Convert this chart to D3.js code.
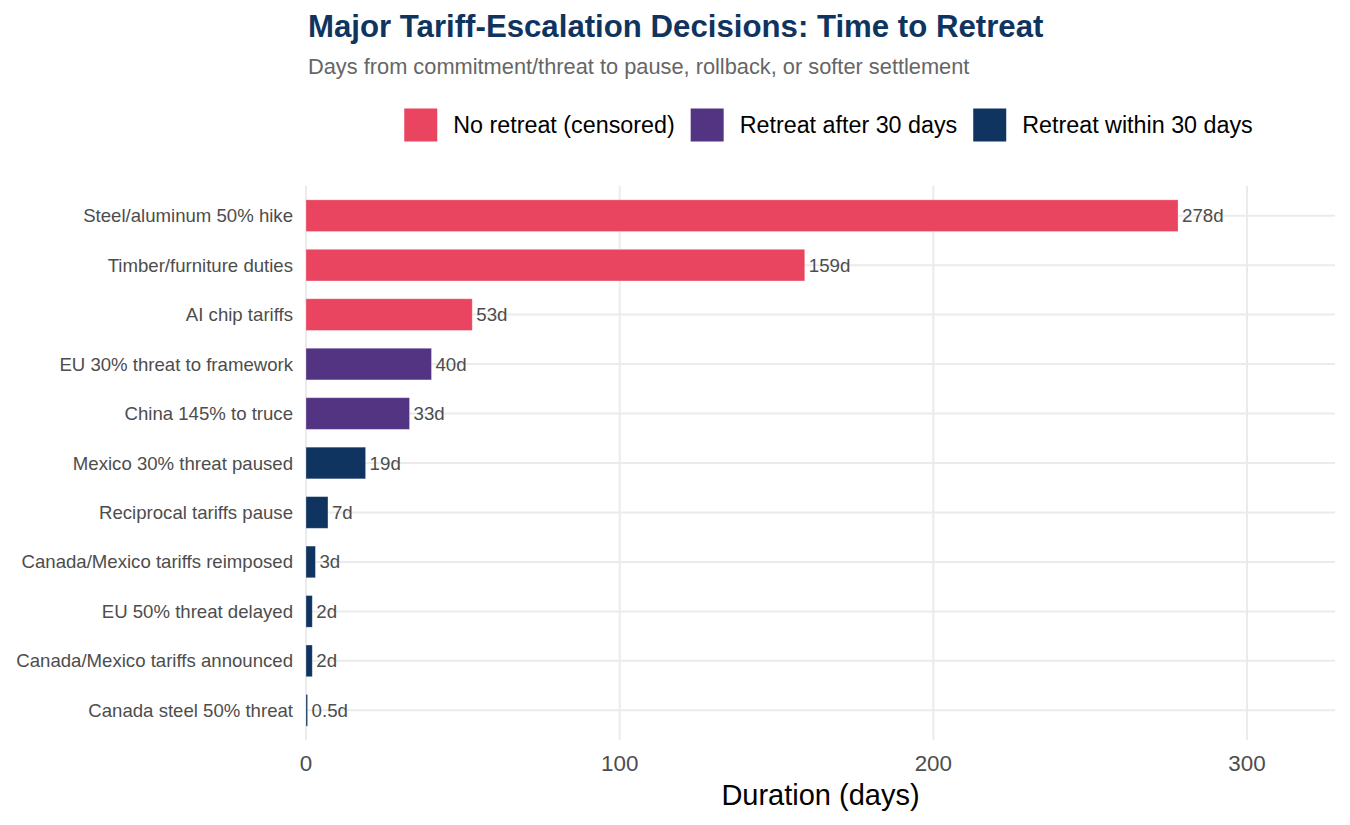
<!DOCTYPE html>
<html lang="en">
<head>
<meta charset="UTF-8">
<title>Time to Retreat</title>
<script src="https://d3js.org/d3.v7.min.js"></script>
<style>
    body { margin: 0; background: #fff; font-family: "Liberation Sans", Arial, sans-serif; }
    .grid line { stroke: #ebebeb; stroke-width: 2; }
    .ylab, .vlab, .xtick { fill: #4d4d4d; }
</style>
</head>
<body>
<div id="chart"></div>
<script>
// data, top to bottom
const events = [
    "Steel/aluminum 50% hike",
    "Timber/furniture duties",
    "AI chip tariffs",
    "EU 30% threat to framework",
    "China 145% to truce",
    "Mexico 30% threat paused",
    "Reciprocal tariffs pause",
    "Canada/Mexico tariffs reimposed",
    "EU 50% threat delayed",
    "Canada/Mexico tariffs announced",
    "Canada steel 50% threat"
];
const days = [278, 159, 53, 40, 33, 19, 7, 3, 2, 2, 0.5];
const valueLabels = ["278d", "159d", "53d", "40d", "33d", "19d", "7d", "3d", "2d", "2d", "0.5d"];
const outcome = [
    "No retreat (censored)", "No retreat (censored)", "No retreat (censored)",
    "Retreat after 30 days", "Retreat after 30 days",
    "Retreat within 30 days", "Retreat within 30 days", "Retreat within 30 days",
    "Retreat within 30 days", "Retreat within 30 days", "Retreat within 30 days"
];
const groups = ["No retreat (censored)", "Retreat after 30 days", "Retreat within 30 days"];
const groupColors = ["#e94560", "#533483", "#0f3460"];
const xTicks = [0, 100, 200, 300];

const W = 1350, H = 825;
const panel = { left: 306, right: 1335, top: 186, bottom: 740 };

const svg = d3.select("#chart").append("svg")
    .attr("width", W).attr("height", H);

const x = d3.scaleLinear()
    .domain([0, d3.max(days) * 1.18])
    .range([panel.left, panel.right]);

const y = d3.scalePoint()
    .domain(events)
    .range([panel.top, panel.bottom])
    .padding(0.6);

const color = d3.scaleOrdinal().domain(groups).range(groupColors);

const barH = y.step() * 0.64;

// grid
const grid = svg.append("g").attr("class", "grid");
grid.selectAll(".gy").data(events).join("line")
    .attr("x1", panel.left).attr("x2", panel.right)
    .attr("y1", d => y(d)).attr("y2", d => y(d));
grid.selectAll(".gx").data(xTicks).join("line")
    .attr("x1", d => x(d)).attr("x2", d => x(d))
    .attr("y1", panel.top).attr("y2", panel.bottom);

// bars
svg.append("g").selectAll("rect").data(events).join("rect")
    .attr("x", x(0))
    .attr("y", d => y(d) - barH / 2)
    .attr("width", (d, i) => x(days[i]) - x(0))
    .attr("height", barH)
    .attr("fill", (d, i) => color(outcome[i]))
    .attr("stroke", "#fff")
    .attr("stroke-opacity", 0.35)
    .attr("stroke-width", 0.8);

// value labels
svg.append("g").selectAll("text").data(events).join("text")
    .attr("class", "vlab")
    .attr("x", (d, i) => x(days[i]) + 4)
    .attr("y", d => y(d))
    .attr("dy", "0.35em")
    .attr("font-size", 18.7)
    .text((d, i) => valueLabels[i]);

// y labels
svg.append("g").selectAll("text").data(events).join("text")
    .attr("class", "ylab")
    .attr("x", panel.left - 13)
    .attr("y", d => y(d))
    .attr("dy", "0.35em")
    .attr("text-anchor", "end")
    .attr("font-size", 18.6)
    .text(d => d);

// x ticks
svg.append("g").selectAll("text").data(xTicks).join("text")
    .attr("class", "xtick")
    .attr("x", d => x(d))
    .attr("y", 763)
    .attr("dy", "0.35em")
    .attr("text-anchor", "middle")
    .attr("font-size", 22.4)
    .text(d => d);

svg.append("text")
    .attr("x", (panel.left + panel.right) / 2)
    .attr("y", 795)
    .attr("dy", "0.35em")
    .attr("text-anchor", "middle")
    .attr("font-size", 29)
    .attr("fill", "#000")
    .text("Duration (days)");

// title
svg.append("text")
    .attr("x", 308).attr("y", 37)
    .attr("font-size", 31.2)
    .attr("font-weight", "bold")
    .attr("fill", "#0f3460")
    .text("Major Tariff-Escalation Decisions: Time to Retreat");

svg.append("text")
    .attr("x", 308).attr("y", 74)
    .attr("font-size", 21.8)
    .attr("fill", "#666")
    .text("Days from commitment/threat to pause, rollback, or softer settlement");

// legend
const legend = svg.append("g");
let lx = 0;
groups.forEach((g, i) => {
    const item = legend.append("g").attr("transform", `translate(${lx},0)`);
    item.append("rect")
        .attr("width", 33).attr("height", 33)
        .attr("y", -16.5)
        .attr("fill", groupColors[i]);
    const t = item.append("text")
        .attr("x", 49).attr("dy", "0.35em")
        .attr("font-size", 23.3)
        .attr("fill", "#000")
        .text(g);
    lx += 49 + t.node().getComputedTextLength() + 16;
});
const legendW = lx - 16;
legend.attr("transform", `translate(${828.5 - legendW / 2},125)`);
</script>
</body>
</html>
